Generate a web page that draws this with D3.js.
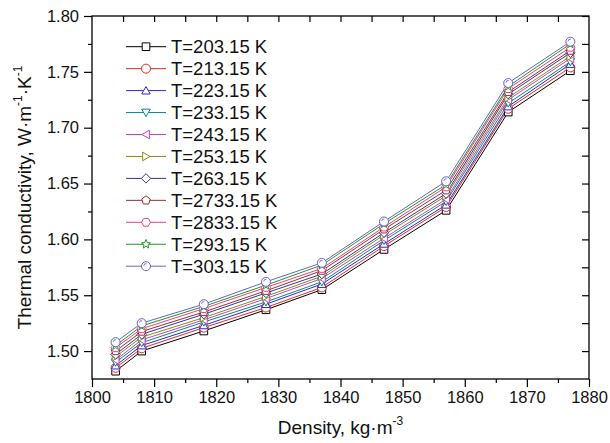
<!DOCTYPE html>
<html>
<head>
<meta charset="utf-8">
<script src="https://cdn.jsdelivr.net/npm/d3@7"></script>
<style>
  body { margin: 0; background: #fff; }
  text { font-family: "Liberation Sans", Arial, sans-serif; fill: #111; }
</style>
</head>
<body>
<svg id="chart"></svg>
<script>
// Density values (x) shared by all series
const density = [1803.8, 1808, 1818, 1828, 1837, 1847, 1857, 1867, 1877];

// Thermal conductivity per temperature
const t203 = [1.482, 1.500, 1.518, 1.537, 1.555, 1.591, 1.626, 1.714, 1.751];
const t213 = [1.485, 1.5025, 1.521, 1.539, 1.557, 1.594, 1.629, 1.717, 1.754];
const t223 = [1.487, 1.505, 1.523, 1.542, 1.560, 1.596, 1.631, 1.719, 1.757];
const t233 = [1.490, 1.5075, 1.526, 1.544, 1.562, 1.599, 1.634, 1.722, 1.759];
const t243 = [1.492, 1.510, 1.528, 1.547, 1.565, 1.601, 1.636, 1.725, 1.762];
const t253 = [1.495, 1.5125, 1.530, 1.549, 1.567, 1.604, 1.639, 1.727, 1.764];
const t263 = [1.497, 1.515, 1.533, 1.552, 1.569, 1.606, 1.641, 1.730, 1.767];
const t2733 = [1.500, 1.5175, 1.535, 1.554, 1.572, 1.609, 1.644, 1.732, 1.769];
const t2833 = [1.503, 1.520, 1.538, 1.557, 1.574, 1.611, 1.647, 1.735, 1.772];
const t293 = [1.505, 1.5225, 1.540, 1.559, 1.577, 1.614, 1.649, 1.737, 1.775];
const t303 = [1.508, 1.525, 1.542, 1.562, 1.579, 1.616, 1.652, 1.740, 1.777];

const seriesLabels = ['T=203.15 K', 'T=213.15 K', 'T=223.15 K', 'T=233.15 K', 'T=243.15 K',
    'T=253.15 K', 'T=263.15 K', 'T=2733.15 K', 'T=2833.15 K', 'T=293.15 K', 'T=303.15 K'];
const seriesValues = [t203, t213, t223, t233, t243, t253, t263, t2733, t2833, t293, t303];
const seriesColors = ['#000000', '#e62a22', '#2a2acc', '#0a8585', '#c444c4', '#8a8a10',
    '#34349e', '#9a2f2f', '#ec3f86', '#239623', '#6464cc'];
const seriesShapes = ['square', 'circle', 'up', 'down', 'left', 'right', 'diamond',
    'pentagon', 'hexagon', 'star', 'sphere'];

const xTicks = d3.range(1800, 1881, 10);
const yTicks = [1.50, 1.55, 1.60, 1.65, 1.70, 1.75, 1.80];

const width = 610;
const height = 443;
const margin = { top: 16, right: 21, bottom: 64, left: 92 };

const svg = d3.select('#chart')
    .attr('width', width)
    .attr('height', height);

const xScale = d3.scaleLinear()
    .domain([1800, 1880])
    .range([margin.left, width - margin.right]);

const yScale = d3.scaleLinear()
    .domain([1.475, 1.80])
    .range([height - margin.bottom, margin.top]);

const x0 = margin.left, x1 = width - margin.right;
const y0 = height - margin.bottom, y1 = margin.top;

// Axes: outward ticks on bottom / left
const xAxis = d3.axisBottom(xScale).tickValues(xTicks).tickSize(8).tickPadding(4).tickFormat(d3.format('d'));
const xMinor = d3.axisBottom(xScale).tickValues(d3.range(1805, 1880, 10)).tickSize(4).tickFormat('');
const yAxis = d3.axisLeft(yScale).tickValues(yTicks).tickSize(8).tickPadding(5).tickFormat(d3.format('.2f'));
const yMinor = d3.axisLeft(yScale).tickValues(d3.range(1.525, 1.80, 0.05)).tickSize(4).tickFormat('');

function styleAxis(g) {
    g.select('.domain').remove();
    g.selectAll('line').attr('stroke', '#000').attr('stroke-width', 1.2);
    g.selectAll('text').attr('font-size', '16.5px').attr('fill', '#111')
        .attr('font-family', '"Liberation Sans", Arial, sans-serif');
}

svg.append('g').attr('transform', `translate(0, ${y0})`).call(xAxis).call(styleAxis);
svg.append('g').attr('transform', `translate(0, ${y0})`).call(xMinor).call(styleAxis);
svg.append('g').attr('transform', `translate(${x0}, 0)`).call(yAxis).call(styleAxis);
svg.append('g').attr('transform', `translate(${x0}, 0)`).call(yMinor).call(styleAxis);

// Mirrored inward ticks on top / right
svg.append('g').attr('transform', `translate(0, ${y1})`)
    .call(d3.axisBottom(xScale).tickValues(d3.range(1805, 1880, 5)).tickSize(6).tickFormat(''))
    .call(styleAxis);
svg.append('g').attr('transform', `translate(${x1}, 0)`)
    .call(d3.axisLeft(yScale).tickValues(d3.range(1.50, 1.80, 0.025)).tickSize(7).tickFormat(''))
    .call(styleAxis);

// Frame
svg.append('rect')
    .attr('x', x0).attr('y', y1)
    .attr('width', x1 - x0).attr('height', y0 - y1)
    .attr('fill', 'none').attr('stroke', '#000').attr('stroke-width', 1.3);

// Marker shapes
function shapePath(shape, r) {
    const poly = (pts) => 'M' + pts.map(p => p.join(',')).join('L') + 'Z';
    const ngon = (n, rad, rot) => d3.range(n).map(i => {
        const a = rot + i * 2 * Math.PI / n;
        return [rad * Math.cos(a), rad * Math.sin(a)];
    });
    switch (shape) {
        case 'square': return poly([[-r * 0.85, -r * 0.85], [r * 0.85, -r * 0.85], [r * 0.85, r * 0.85], [-r * 0.85, r * 0.85]]);
        case 'up': return poly(ngon(3, r * 1.1, -Math.PI / 2).map(p => [p[0], p[1] + r * 0.2]));
        case 'down': return poly(ngon(3, r * 1.1, Math.PI / 2).map(p => [p[0], p[1] - r * 0.2]));
        case 'left': return poly(ngon(3, r * 1.1, Math.PI).map(p => [p[0] + r * 0.2, p[1]]));
        case 'right': return poly(ngon(3, r * 1.1, 0).map(p => [p[0] - r * 0.2, p[1]]));
        case 'diamond': return poly(ngon(4, r * 1.05, 0));
        case 'pentagon': return poly(ngon(5, r, -Math.PI / 2));
        case 'hexagon': return poly(ngon(6, r, 0));
        case 'star': {
            const pts = d3.range(10).map(i => {
                const a = -Math.PI / 2 + i * Math.PI / 5;
                const rad = i % 2 === 0 ? r * 1.05 : r * 0.45;
                return [rad * Math.cos(a), rad * Math.sin(a)];
            });
            return poly(pts);
        }
        default:
            return `M${r},0A${r},${r} 0 1,1 ${-r},0A${r},${r} 0 1,1 ${r},0Z`;
    }
}

function drawMarker(g, shape, color, cx, cy) {
    const r = 4.5;
    g.append('path')
        .attr('d', shapePath(shape, r))
        .attr('transform', `translate(${cx},${cy})`)
        .attr('fill', '#fff')
        .attr('stroke', color)
        .attr('stroke-width', 1);
    if (shape === 'sphere') {
        g.append('path')
            .attr('d', `M${-r * 0.5},${-r * 0.1}A${r * 0.5},${r * 0.5} 0 0,1 ${r * 0.1},${-r * 0.55}`)
            .attr('transform', `translate(${cx},${cy})`)
            .attr('fill', 'none')
            .attr('stroke', color)
            .attr('stroke-width', 0.9);
    }
}

const line = d3.line()
    .x((d, i) => xScale(density[i]))
    .y(d => yScale(d));

const plot = svg.append('g');

// Lines for each series
seriesValues.forEach((vals, s) => {
    plot.append('path')
        .datum(vals)
        .attr('fill', 'none')
        .attr('stroke', seriesColors[s])
        .attr('stroke-width', 1)
        .attr('d', line);
});

// Markers on top
seriesValues.forEach((vals, s) => {
    vals.forEach((v, i) => {
        drawMarker(plot, seriesShapes[s], seriesColors[s], xScale(density[i]), yScale(v));
    });
});

// Legend
const legend = svg.append('g');
const legTop = 46.7;
const legStep = 21.95;
seriesLabels.forEach((label, s) => {
    const ly = legTop + s * legStep;
    legend.append('line')
        .attr('x1', 126).attr('x2', 166)
        .attr('y1', ly).attr('y2', ly)
        .attr('stroke', seriesColors[s])
        .attr('stroke-width', 1);
    drawMarker(legend, seriesShapes[s], seriesColors[s], 146, ly);
    legend.append('text')
        .attr('x', 171)
        .attr('y', ly + 6.5)
        .attr('font-size', '18.5px')
        .text(label);
});

// Axis titles
const xTitle = svg.append('text')
    .attr('x', (x0 + x1) / 2)
    .attr('y', 434)
    .attr('text-anchor', 'middle')
    .attr('font-size', '19px');
xTitle.append('tspan').text('Density, kg\u00b7m');
xTitle.append('tspan').attr('dy', -9).attr('font-size', '12px').text('-3');

const yTitle = svg.append('text')
    .attr('transform', `translate(31, ${(y0 + y1) / 2}) rotate(-90)`)
    .attr('text-anchor', 'middle')
    .attr('font-size', '19px');
yTitle.append('tspan').text('Thermal conductivity, W\u00b7m');
yTitle.append('tspan').attr('dy', -9).attr('font-size', '12px').text('-1');
yTitle.append('tspan').attr('dy', 9).text('\u00b7K');
yTitle.append('tspan').attr('dy', -9).attr('font-size', '12px').text('-1');
</script>
</body>
</html>
